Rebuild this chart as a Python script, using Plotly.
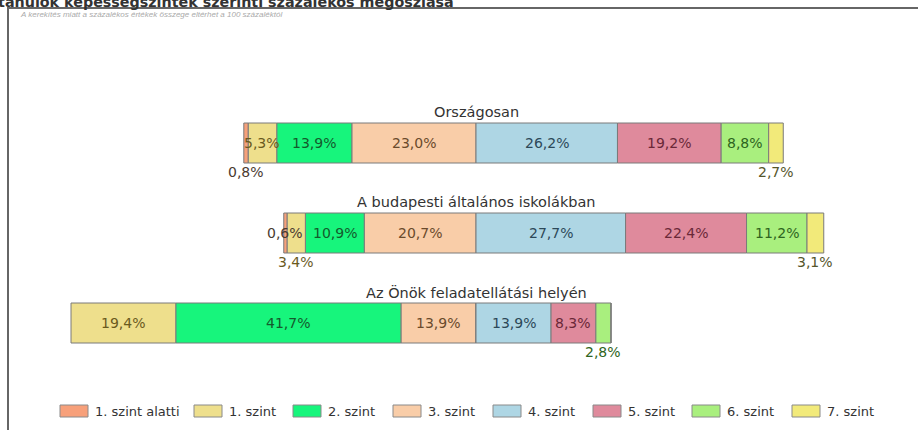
import plotly.graph_objects as go

# ---------------- data ----------------
groups = ["Országosan", "A budapesti általános iskolákban", "Az Önök feladatellátási helyén"]
levels = ["1. szint alatti", "1. szint", "2. szint", "3. szint",
          "4. szint", "5. szint", "6. szint", "7. szint"]
szint_alatti = [0.8, 0.6, 0.0]
szint_1 = [5.3, 3.4, 19.4]
szint_2 = [13.9, 10.9, 41.7]
szint_3 = [23.0, 20.7, 13.9]
szint_4 = [26.2, 27.7, 13.9]
szint_5 = [19.2, 22.4, 8.3]
szint_6 = [8.8, 11.2, 2.8]
szint_7 = [2.7, 3.1, 0.0]

values = {
    "1. szint alatti": szint_alatti, "1. szint": szint_1, "2. szint": szint_2,
    "3. szint": szint_3, "4. szint": szint_4, "5. szint": szint_5,
    "6. szint": szint_6, "7. szint": szint_7,
}
left_levels = ["3. szint", "2. szint", "1. szint", "1. szint alatti"]   # stacked leftwards from 0
right_levels = ["4. szint", "5. szint", "6. szint", "7. szint"]         # stacked rightwards from 0

title_text = "A tanulók képességszintek szerinti százalékos megoszlása"
note_text = "A kerekítés miatt a százalékos értékek összege eltérhet a 100 százaléktól"

# ---------------- style ----------------
W, H = 918, 430
FONT = "DejaVu Sans, Verdana, sans-serif"
NOTE_FONT = "Liberation Sans, Arial, sans-serif"
fill = {
    "1. szint alatti": "#F7A07A", "1. szint": "#EEDF8C", "2. szint": "#17F57C",
    "3. szint": "#F9CDA8", "4. szint": "#AED6E4", "5. szint": "#DF8A9C",
    "6. szint": "#A9EF7E", "7. szint": "#F2EA7A",
}
txtcol = {
    "1. szint alatti": "#4A3A30", "1. szint": "#6A5A1E", "2. szint": "#145A2C",
    "3. szint": "#6A4A2C", "4. szint": "#2C4858", "5. szint": "#6A2838",
    "6. szint": "#2E6420", "7. szint": "#55552A",
}
below = {("Országosan", "1. szint alatti"), ("Országosan", "7. szint"),
         ("A budapesti általános iskolákban", "1. szint"),
         ("A budapesti általános iskolákban", "7. szint"),
         ("Az Önök feladatellátási helyén", "6. szint")}
ZERO_PX, PX_PER_PCT = 476, 5.4
ROW0_PX, ROW_STEP = 143, 90
BAR_PX = 40

def px(x):
    return x / W

def py(y):
    return 1 - y / H

fig = go.Figure()
annotations = []

def add_side(level_list, sign):
    cum = [0.0] * len(groups)
    for lv in level_list:
        vals = values[lv]
        fig.add_trace(go.Bar(
            y=groups, x=[sign * v for v in vals], orientation="h", name=lv,
            marker=dict(color=fill[lv], line=dict(color="#7A7A7A", width=1)),
            width=BAR_PX / ROW_STEP, customdata=vals,
            hovertemplate="%{y}<br>" + lv + ": %{customdata:.1f}%<extra></extra>",
            showlegend=False,
        ))
        for i, g in enumerate(groups):
            v = vals[i]
            if v > 0:
                center = sign * (cum[i] + v / 2)
                annotations.append(dict(
                    x=center, y=g, xref="x", yref="y",
                    text=f"{v:.1f}%".replace(".", ","), showarrow=False,
                    font=dict(family=FONT, size=14, color=txtcol[lv]),
                    yshift=-29 if (g, lv) in below else 0,
                ))
            cum[i] += v

add_side(left_levels, -1)
add_side(right_levels, 1)

# row titles
for g in groups:
    annotations.append(dict(x=0, y=g, xref="x", yref="y", text=g, showarrow=False,
                            yshift=31, font=dict(family=FONT, size=14.5, color="#333333")))

# top title (cropped by the page edge) and note
annotations.append(dict(x=px(456), y=py(2), xref="paper", yref="paper", xanchor="right",
                        yanchor="middle", text=f"<b>{title_text}</b>", showarrow=False,
                        font=dict(family=FONT, size=14.3, color="#333333")))
annotations.append(dict(x=px(18), y=py(15), xref="paper", yref="paper", xanchor="left",
                        yanchor="middle", text=f"<i>{note_text}</i>", showarrow=False,
                        font=dict(family=NOTE_FONT, size=8, color="#AAAAAA")))

# frame + custom legend
shapes = [dict(type="rect", xref="paper", yref="paper", x0=px(8), x1=px(W + 10),
               y0=py(H + 10), y1=py(8), line=dict(color="#666666", width=2))]
leg_x = [60, 194, 293, 393, 493, 593, 692, 792]
for lv, x0 in zip(levels, leg_x):
    shapes.append(dict(type="rect", xref="paper", yref="paper", x0=px(x0), x1=px(x0 + 28),
                       y0=py(417), y1=py(405), fillcolor=fill[lv],
                       line=dict(color="#8A8A8A", width=1)))
    annotations.append(dict(x=px(x0 + 33), y=py(411), xref="paper", yref="paper",
                            xanchor="left", yanchor="middle", text=lv, showarrow=False,
                            font=dict(family=FONT, size=13, color="#333333")))

fig.update_layout(
    width=W, height=H, margin=dict(l=0, r=0, t=0, b=0),
    paper_bgcolor="white", plot_bgcolor="white", barmode="relative",
    xaxis=dict(range=[-ZERO_PX / PX_PER_PCT, (W - ZERO_PX) / PX_PER_PCT],
               visible=False, fixedrange=True),
    yaxis=dict(type="category", categoryarray=groups,
               range=[(H - ROW0_PX) / ROW_STEP, -ROW0_PX / ROW_STEP],
               visible=False, fixedrange=True),
    annotations=annotations, shapes=shapes, showlegend=False,
)

fig.write_html("out.html", config={"displayModeBar": False},
               post_script="document.body.style.margin='0px';")
